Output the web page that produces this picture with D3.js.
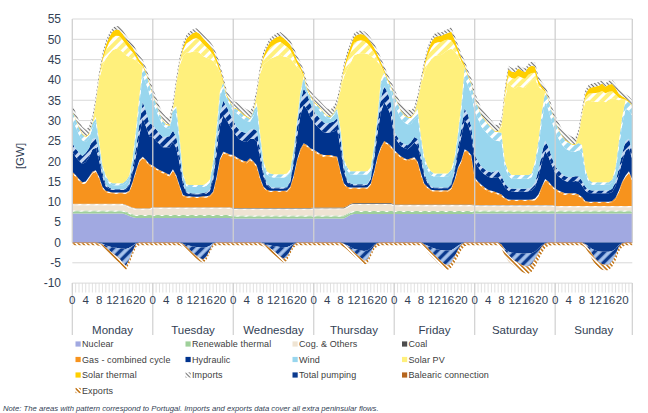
<!DOCTYPE html>
<html>
<head>
<meta charset="utf-8">
<script src="https://cdn.jsdelivr.net/npm/d3@7/dist/d3.min.js"></script>
<style>
body { margin: 0; background: #fff; }
text { font-family: "Liberation Sans", Arial, sans-serif; }
</style>
</head>
<body>
<div id="chart"></div>
<script>
// hourly values, GW, Monday 0h .. Sunday 23h (7 x 24)
var days = ["Monday", "Tuesday", "Wednesday", "Thursday", "Friday", "Saturday", "Sunday"];
var hourLabels = [0, 4, 8, 12, 16, 20];
var yTicks = [-10, -5, 0, 5, 10, 15, 20, 25, 30, 35, 40, 45, 50, 55];

var nuclear = [
 7.1,7.1,7.1,7.1,7.1,7.1,7.1,7.1,7.1,7.1,7.1,7.1,7.1,7.1,7.1,7.1,6.9,6.5,6.2,6.0,6.0,6.0,6.0,6.0,
 6.0,6.0,6.0,6.0,6.0,6.0,6.0,6.0,6.0,6.0,6.0,6.0,6.0,6.0,6.0,6.0,6.0,6.0,6.0,6.0,6.0,6.0,6.0,6.0,
 5.9,5.9,5.9,5.9,5.9,5.9,5.9,5.9,5.9,5.9,5.9,5.9,5.9,5.9,5.9,5.9,5.9,5.9,5.9,5.9,5.9,5.9,5.9,5.9,
 5.9,5.9,5.9,5.9,5.9,5.9,5.9,5.9,5.9,5.9,6.3,6.8,7.0,7.0,7.0,7.0,7.0,7.0,7.0,7.0,7.0,7.0,7.0,7.0,
 7.0,7.0,7.0,7.0,7.0,7.0,7.0,7.0,7.0,7.0,7.0,7.0,7.0,7.0,7.0,7.0,7.0,7.0,7.0,7.0,7.0,7.0,7.0,7.0,
 7.1,7.1,7.1,7.1,7.1,7.1,7.1,7.1,7.1,7.1,7.1,7.1,7.1,7.1,7.1,7.1,7.1,7.1,7.1,7.1,7.1,7.1,7.1,7.1,
 7.1,7.1,7.1,7.1,7.1,7.1,7.1,7.1,7.1,7.1,7.1,7.1,7.1,7.1,7.1,7.1,7.1,7.1,7.1,7.1,7.1,7.1,7.1,7.1];

var renThermal = [
 0.5,0.5,0.5,0.5,0.5,0.5,0.5,0.5,0.5,0.5,0.5,0.5,0.5,0.5,0.5,0.5,0.5,0.5,0.5,0.5,0.5,0.5,0.5,0.5,
 0.5,0.5,0.5,0.5,0.5,0.5,0.5,0.5,0.5,0.5,0.5,0.5,0.5,0.5,0.5,0.5,0.5,0.5,0.5,0.5,0.5,0.5,0.5,0.5,
 0.5,0.5,0.5,0.5,0.5,0.5,0.5,0.5,0.5,0.5,0.5,0.5,0.5,0.5,0.5,0.5,0.5,0.5,0.5,0.5,0.5,0.5,0.5,0.5,
 0.5,0.5,0.5,0.5,0.5,0.5,0.5,0.5,0.5,0.5,0.5,0.5,0.5,0.5,0.5,0.5,0.5,0.5,0.5,0.5,0.5,0.5,0.5,0.5,
 0.5,0.5,0.5,0.5,0.5,0.5,0.5,0.5,0.5,0.5,0.5,0.5,0.5,0.5,0.5,0.5,0.5,0.5,0.5,0.5,0.5,0.5,0.5,0.5,
 0.5,0.5,0.5,0.5,0.5,0.5,0.5,0.5,0.5,0.5,0.5,0.5,0.5,0.5,0.5,0.5,0.5,0.5,0.5,0.5,0.5,0.5,0.5,0.5,
 0.5,0.5,0.5,0.5,0.5,0.5,0.5,0.5,0.5,0.5,0.5,0.5,0.5,0.5,0.5,0.5,0.5,0.5,0.5,0.5,0.5,0.5,0.5,0.5];

var renThermalPT = [
 .25,.25,.25,.25,.25,.25,.25,.25,.25,.25,.25,.25,.25,.25,.25,.25,.25,.25,.25,.25,.25,.25,.25,.25,
 .25,.25,.25,.25,.25,.25,.25,.25,.25,.25,.25,.25,.25,.25,.25,.25,.25,.25,.25,.25,.25,.25,.25,.25,
 .25,.25,.25,.25,.25,.25,.25,.25,.25,.25,.25,.25,.25,.25,.25,.25,.25,.25,.25,.25,.25,.25,.25,.25,
 .25,.25,.25,.25,.25,.25,.25,.25,.25,.25,.25,.25,.25,.25,.25,.25,.25,.25,.25,.25,.25,.25,.25,.25,
 .25,.25,.25,.25,.25,.25,.25,.25,.25,.25,.25,.25,.25,.25,.25,.25,.25,.25,.25,.25,.25,.25,.25,.25,
 .25,.25,.25,.25,.25,.25,.25,.25,.25,.25,.25,.25,.25,.25,.25,.25,.25,.25,.25,.25,.25,.25,.25,.25,
 .25,.25,.25,.25,.25,.25,.25,.25,.25,.25,.25,.25,.25,.25,.25,.25,.25,.25,.25,.25,.25,.25,.25,.25];

var cog = [
 1.3,1.3,1.3,1.3,1.3,1.3,1.3,1.3,1.3,1.3,1.3,1.3,1.3,1.3,1.3,1.3,1.3,1.3,1.3,1.3,1.3,1.3,1.3,1.3,
 1.55,1.55,1.55,1.55,1.55,1.55,1.55,1.55,1.55,1.55,1.55,1.55,1.55,1.55,1.55,1.55,1.55,1.55,1.55,1.55,1.55,1.55,1.55,1.55,
 1.4,1.4,1.4,1.4,1.4,1.4,1.4,1.4,1.4,1.4,1.4,1.4,1.4,1.4,1.4,1.4,1.4,1.4,1.4,1.4,1.4,1.4,1.4,1.4,
 1.5,1.5,1.5,1.5,1.5,1.5,1.5,1.5,1.5,1.5,1.5,1.5,1.5,1.5,1.5,1.5,1.5,1.5,1.5,1.5,1.5,1.5,1.5,1.5,
 1.15,1.15,1.15,1.15,1.15,1.15,1.15,1.15,1.15,1.15,1.15,1.15,1.15,1.15,1.15,1.15,1.15,1.15,1.15,1.15,1.15,1.15,1.15,1.15,
 1.0,1.0,1.0,1.0,1.0,1.0,1.0,1.0,1.0,1.0,1.0,1.0,1.0,1.0,1.0,1.0,1.0,1.0,1.0,1.0,1.0,1.0,1.0,1.0,
 0.8,0.8,0.8,0.8,0.8,0.8,0.8,0.8,0.8,0.8,0.8,0.8,0.8,0.8,0.8,0.8,0.8,0.8,0.8,0.8,0.8,0.8,0.8,0.8];

var cogPT = [
 0.3,0.3,0.3,0.3,0.3,0.3,0.3,0.3,0.3,0.3,0.3,0.3,0.3,0.3,0.3,0.3,0.3,0.3,0.3,0.3,0.3,0.3,0.3,0.3,
 0.3,0.3,0.3,0.3,0.3,0.3,0.3,0.3,0.3,0.3,0.3,0.3,0.3,0.3,0.3,0.3,0.3,0.3,0.3,0.3,0.3,0.3,0.3,0.3,
 0.3,0.3,0.3,0.3,0.3,0.3,0.3,0.3,0.3,0.3,0.3,0.3,0.3,0.3,0.3,0.3,0.3,0.3,0.3,0.3,0.3,0.3,0.3,0.3,
 0.3,0.3,0.3,0.3,0.3,0.3,0.3,0.3,0.3,0.3,0.3,0.3,0.3,0.3,0.3,0.3,0.3,0.3,0.3,0.3,0.3,0.3,0.3,0.3,
 0.3,0.3,0.3,0.3,0.3,0.3,0.3,0.3,0.3,0.3,0.3,0.3,0.3,0.3,0.3,0.3,0.3,0.3,0.3,0.3,0.3,0.3,0.3,0.3,
 0.3,0.3,0.3,0.3,0.3,0.3,0.3,0.3,0.3,0.3,0.3,0.3,0.3,0.3,0.3,0.3,0.3,0.3,0.3,0.3,0.3,0.3,0.3,0.3,
 0.3,0.3,0.3,0.3,0.3,0.3,0.3,0.3,0.3,0.3,0.3,0.3,0.3,0.3,0.3,0.3,0.3,0.3,0.3,0.3,0.3,0.3,0.3,0.3];

var coal = [
 .05,.05,.05,.05,.05,.05,.05,.05,.05,.05,.05,.05,.05,.05,.05,.05,.05,.05,.05,.05,.05,.05,.05,.05,
 .05,.05,.05,.05,.05,.05,.05,.05,.05,.05,.05,.05,.05,.05,.05,.05,.05,.05,.05,.05,.05,.05,.05,.05,
 .15,.15,.15,.15,.15,.15,.15,.15,.15,.15,.15,.15,.15,.15,.15,.15,.15,.15,.15,.15,.15,.15,.15,.15,
 .15,.15,.15,.15,.15,.15,.15,.15,.15,.15,.15,.15,.15,.15,.15,.15,.15,.15,.15,.15,.15,.15,.15,.15,
 .15,.15,.15,.15,.15,.15,.15,.15,.15,.15,.15,.15,.15,.15,.15,.15,.15,.15,.15,.15,.15,.15,.15,.15,
 .05,.05,.05,.05,.05,.05,.05,.05,.05,.05,.05,.05,.05,.05,.05,.05,.05,.05,.05,.05,.05,.05,.05,.05,
 .05,.05,.05,.05,.05,.05,.05,.05,.05,.05,.05,.05,.05,.05,.05,.05,.05,.05,.05,.05,.05,.05,.05,.05];

var gas = [
 7.5,6.7,5.7,4.9,5.1,6.3,7.5,7.9,6.3,3.9,2.9,2.7,2.5,2.5,2.5,2.5,2.7,3.5,6.0,9.0,11.5,12.3,11.5,10.5,
 9.9,9.3,8.8,8.4,8.0,7.6,9.0,7.5,5.0,2.8,2.4,2.4,2.3,2.3,2.3,2.4,2.4,2.6,3.5,7.0,11.5,13.3,13.0,12.6,
 12.6,12.1,11.6,11.2,11.0,11.8,11.1,10.1,7.1,5.0,4.2,3.9,3.9,3.9,3.9,3.9,4.0,4.9,7.6,11.4,14.1,15.5,15.1,14.3,
 13.8,13.3,12.8,12.5,12.5,12.5,12.3,12.1,8.5,5.7,4.4,3.7,3.5,3.5,3.5,3.5,3.6,4.5,7.4,11.0,13.4,14.9,14.4,13.7,
 13.0,12.2,11.5,11.0,10.7,11.0,11.2,10.2,7.2,4.8,4.0,3.3,3.2,3.2,3.2,3.2,3.2,3.8,5.7,8.7,10.5,13.2,12.7,11.7,
 6.4,5.4,4.6,3.9,3.4,3.1,2.9,2.6,2.2,1.5,1.1,1.0,1.0,1.0,1.0,1.0,1.0,1.1,1.2,2.2,4.2,6.0,5.4,4.4,
 3.9,3.4,3.0,2.7,2.7,2.7,2.7,2.4,1.8,0.9,0.7,0.7,0.7,0.7,0.7,0.7,0.7,0.9,1.6,3.4,5.6,7.1,8.1,6.1];

var gasPT = [
 0.4,0.4,0.4,0.4,0.4,0.4,0.4,0.4,0.4,0.3,0.3,0.3,0.3,0.3,0.3,0.3,0.3,0.3,0.4,0.4,0.4,0.4,0.4,0.4,
 0.4,0.4,0.4,0.4,0.4,0.4,0.4,0.4,0.4,0.3,0.3,0.3,0.3,0.3,0.3,0.3,0.3,0.3,0.4,0.4,0.4,0.4,0.4,0.4,
 0.4,0.4,0.4,0.4,0.4,0.4,0.4,0.4,0.4,0.3,0.3,0.3,0.3,0.3,0.3,0.3,0.3,0.3,0.4,0.4,0.4,0.4,0.4,0.4,
 0.4,0.4,0.4,0.4,0.4,0.4,0.4,0.4,0.4,0.3,0.3,0.3,0.3,0.3,0.3,0.3,0.3,0.3,0.4,0.4,0.4,0.4,0.4,0.4,
 0.4,0.4,0.4,0.4,0.4,0.4,0.4,0.4,0.4,0.3,0.3,0.3,0.3,0.3,0.3,0.3,0.3,0.3,0.4,0.4,0.4,0.4,0.4,0.4,
 0.4,0.4,0.4,0.4,0.4,0.4,0.4,0.4,0.4,0.3,0.3,0.3,0.3,0.3,0.3,0.3,0.3,0.3,0.4,0.4,0.4,0.4,0.4,0.4,
 0.4,0.4,0.4,0.4,0.4,0.4,0.4,0.4,0.4,0.3,0.3,0.3,0.3,0.3,0.3,0.3,0.3,0.3,0.4,0.4,0.4,0.4,0.4,0.4];

var hydro = [
 5.0,4.5,4.5,4.5,4.8,4.8,5.5,5.5,4.0,2.5,1.1,0.7,0.6,0.6,0.6,0.6,0.7,1.4,2.3,3.5,6.0,9.5,8.2,6.8,
 7.0,6.7,6.4,6.0,6.4,6.7,6.7,6.7,5.3,2.5,0.9,0.6,0.6,0.6,0.6,0.6,0.7,1.1,2.8,5.6,7.8,8.9,8.1,7.0,
 5.9,5.2,4.8,4.8,4.8,4.8,5.5,5.9,4.9,2.5,1.1,0.7,0.6,0.6,0.6,0.6,0.6,1.1,2.8,5.6,8.1,9.5,8.8,7.7,
 6.7,6.3,6.0,5.6,5.5,5.6,6.0,6.7,5.7,2.9,1.1,0.7,0.6,0.6,0.6,0.6,0.6,1.1,2.8,5.6,8.5,9.5,8.8,7.4,
 3.3,2.9,2.5,2.5,2.5,2.9,3.6,4.0,3.3,1.8,0.9,0.6,0.5,0.5,0.5,0.5,0.5,0.7,1.8,3.6,5.8,7.2,6.5,5.0,
 3.9,3.5,3.2,3.2,3.2,3.2,3.5,3.9,3.2,2.5,2.2,2.1,2.0,2.0,2.0,2.0,2.1,2.2,2.9,4.3,5.8,6.9,6.1,5.0,
 3.9,3.5,3.2,3.0,2.8,2.8,3.0,3.2,2.8,2.5,2.2,2.1,2.1,2.1,2.1,2.1,2.1,2.2,2.9,3.9,5.0,6.1,5.7,5.0];

var hydroPT = [
 2.0,2.0,2.0,2.0,2.2,2.2,2.5,2.5,2.0,1.0,0.4,0.3,0.2,0.2,0.2,0.2,0.3,0.6,1.2,2.0,3.0,4.0,3.8,3.2,
 3.0,2.8,2.6,2.5,2.6,2.8,2.8,2.8,2.2,1.0,0.3,0.2,0.2,0.2,0.2,0.2,0.3,0.4,1.2,2.4,3.2,3.6,3.4,3.0,
 2.6,2.3,2.2,2.2,2.2,2.2,2.5,2.6,2.1,1.0,0.4,0.3,0.2,0.2,0.2,0.2,0.2,0.4,1.2,2.4,3.4,4.0,3.7,3.3,
 2.8,2.7,2.5,2.4,2.3,2.4,2.5,2.8,2.3,1.1,0.4,0.3,0.2,0.2,0.2,0.2,0.2,0.4,1.2,2.4,3.5,4.0,3.7,3.1,
 1.2,1.1,1.0,1.0,1.0,1.1,1.4,1.5,1.2,0.7,0.3,0.2,0.2,0.2,0.2,0.2,0.2,0.3,0.7,1.4,2.2,2.8,2.5,2.0,
 1.6,1.5,1.3,1.3,1.3,1.3,1.5,1.6,1.3,1.0,0.8,0.7,0.7,0.7,0.7,0.7,0.7,0.8,1.1,1.7,2.2,2.6,2.4,2.0,
 1.6,1.5,1.3,1.2,1.2,1.2,1.2,1.3,1.2,1.0,0.8,0.7,0.7,0.7,0.7,0.7,0.7,0.8,1.1,1.6,2.0,2.4,2.3,2.0];

var wind = [
 5.9,5.3,4.4,3.8,2.7,2.4,2.8,3.9,2.0,1.3,1.7,1.0,1.0,1.0,1.0,1.0,1.3,1.2,1.7,3.4,4.9,6.5,6.8,7.2,
 5.5,4.7,3.6,2.9,2.1,1.9,4.0,5.7,3.4,1.3,1.3,1.5,1.6,1.6,1.6,1.5,1.6,1.8,2.6,3.0,4.1,3.4,1.8,2.1,
 2.3,3.3,3.6,3.3,3.0,2.0,3.1,5.4,3.0,2.0,2.2,2.5,2.5,2.5,2.5,2.5,2.6,2.1,1.9,1.2,1.9,2.3,0.9,1.3,
 1.7,1.9,1.9,1.8,1.3,0.9,1.5,1.8,1.8,1.4,2.5,2.2,2.4,2.4,2.4,2.4,2.3,1.8,1.8,1.4,3.3,2.5,2.2,3.0,
 6.8,6.3,5.7,5.3,5.1,4.4,4.3,5.7,3.4,3.0,2.9,2.8,2.6,2.6,2.6,2.6,2.6,2.6,2.2,2.6,4.3,7.7,7.1,7.9,
 10.8,10.4,9.8,9.5,9.1,8.5,7.6,7.3,8.4,4.2,2.9,2.4,2.5,2.5,2.5,2.5,2.4,2.5,3.9,5.5,7.9,9.4,9.1,8.7,
 8.5,7.8,7.2,6.8,6.6,6.2,6.0,6.4,6.9,3.3,1.8,1.4,1.4,1.4,1.4,1.4,1.4,1.6,2.6,5.2,7.0,7.9,7.0,8.7];

var windPT = [
 2.0,1.9,1.7,1.5,1.2,1.0,1.1,1.3,0.8,0.5,0.6,0.5,0.5,0.5,0.5,0.5,0.6,0.6,0.8,1.3,1.8,2.3,2.4,2.5,
 1.8,1.6,1.3,1.1,0.8,0.7,1.3,1.8,1.1,0.5,0.5,0.5,0.5,0.5,0.5,0.5,0.6,0.6,0.9,1.0,1.4,1.2,0.7,0.8,
 0.8,1.0,1.1,1.0,1.0,0.7,1.0,1.6,1.0,0.7,0.8,0.8,0.8,0.8,0.8,0.8,0.8,0.7,0.6,0.5,0.6,0.7,0.3,0.5,
 0.6,0.6,0.7,0.6,0.5,0.4,0.5,0.6,0.7,0.5,0.8,0.8,0.8,0.8,0.8,0.8,0.8,0.7,0.7,0.5,1.2,0.9,0.8,1.0,
 2.2,2.0,1.9,1.7,1.7,1.5,1.4,1.8,1.1,1.0,0.9,0.9,0.8,0.8,0.8,0.8,0.8,0.9,0.8,0.9,1.4,2.5,2.4,2.6,
 3.0,2.9,2.7,2.6,2.5,2.4,2.2,2.1,2.3,1.3,1.0,0.9,0.9,0.9,0.9,0.9,0.9,0.9,1.3,1.7,2.3,2.6,2.5,2.4,
 2.4,2.2,2.1,2.0,1.9,1.8,1.7,1.8,1.9,1.0,0.7,0.6,0.6,0.6,0.6,0.6,0.6,0.7,0.9,1.5,2.0,2.2,2.0,2.4];

var solarPV = [
 0,0,0,0,0,0,0,3.4,15.0,24.3,28.7,31.4,32.7,33.1,33.0,32.3,30.9,29.1,24.3,16.7,8.0,0,0,0,
 0,0,0,0,0,0,0,5.4,17.5,28.8,32.4,32.6,32.8,33.0,32.5,31.7,30.9,29.7,24.6,15.5,5.0,0,0,0,
 0,0,0,0,0,0,0,1.9,14.5,23.8,27.0,28.2,28.7,29.1,29.4,29.0,28.6,27.3,21.3,13.2,5.5,0,0,0,
 0,0,0,0,0,0,0,0.9,9.5,20.3,24.2,26.7,28.5,28.9,29.1,29.1,28.9,27.4,21.3,13.5,3.5,0,0,0,
 0,0,0,0,0,0,0,1.9,12.8,20.8,25.2,27.6,28.9,29.1,29.2,29.8,30.4,29.7,26.1,19.0,10.5,0,0,0,
 0,0,0,0,0,0,0,0,1.6,15.1,21.8,21.7,21.3,21.9,21.6,21.4,22.5,22.8,20.4,13.3,5.7,0,0,0,
 0,0,0,0,0,0,0,1.9,7.2,16.7,19.5,19.9,19.8,19.8,20.2,19.7,20.3,20.0,16.8,10.0,4.2,0,0,0];

var solarPVPT = [
 0,0,0,0,0,0,0,0.1,0.6,1.4,2.2,2.8,3.1,3.2,3.2,3.0,2.6,2.1,1.5,0.8,0.2,0,0,0,
 0,0,0,0,0,0,0,0.1,0.6,1.4,2.2,2.8,3.1,3.2,3.2,3.0,2.6,2.1,1.5,0.8,0.2,0,0,0,
 0,0,0,0,0,0,0,0.1,0.6,1.4,2.2,2.8,3.1,3.2,3.2,3.0,2.6,2.1,1.5,0.8,0.2,0,0,0,
 0,0,0,0,0,0,0,0.1,0.6,1.4,2.2,2.8,3.1,3.2,3.2,3.0,2.6,2.1,1.5,0.8,0.2,0,0,0,
 0,0,0,0,0,0,0,0.1,0.6,1.4,2.2,2.8,3.1,3.2,3.2,3.0,2.6,2.1,1.5,0.8,0.2,0,0,0,
 0,0,0,0,0,0,0,0.1,0.4,1.0,1.8,2.2,2.4,2.5,2.4,2.3,2.2,1.9,1.4,0.7,0.2,0,0,0,
 0,0,0,0,0,0,0,0.1,0.4,1.0,1.6,2.0,2.2,2.3,2.3,2.2,2.0,1.7,1.2,0.6,0.2,0,0,0];

var solarThermal = [
 0.2,0.2,0.2,0.2,0.2,0.2,0.2,0.2,0.3,0.8,1.2,1.4,1.5,1.5,1.5,1.5,1.4,1.3,1.2,1.0,0.8,0.6,0.4,0.3,
 0.2,0.2,0.2,0.2,0.2,0.2,0.2,0.2,0.3,0.8,1.2,1.4,1.5,1.5,1.5,1.5,1.4,1.3,1.2,1.0,0.8,0.6,0.4,0.3,
 0.2,0.2,0.2,0.2,0.2,0.2,0.2,0.2,0.3,0.8,1.2,1.4,1.5,1.5,1.5,1.5,1.4,1.3,1.2,1.0,0.8,0.6,0.4,0.3,
 0.2,0.2,0.2,0.2,0.2,0.2,0.2,0.2,0.3,0.8,1.2,1.4,1.5,1.5,1.5,1.5,1.4,1.3,1.2,1.0,0.8,0.6,0.4,0.3,
 0.2,0.2,0.2,0.2,0.2,0.2,0.2,0.2,0.3,0.8,1.2,1.4,1.5,1.5,1.5,1.5,1.6,2.2,1.4,1.0,0.8,0.6,0.4,0.3,
 0.2,0.2,0.2,0.2,0.2,0.2,0.2,0.2,0.3,0.9,1.5,1.6,1.6,1.8,1.7,1.6,1.8,1.8,1.5,1.0,0.6,0.4,0.3,0.2,
 0.2,0.2,0.2,0.2,0.2,0.2,0.2,0.2,0.3,0.8,1.3,1.5,1.6,1.7,1.8,1.6,1.8,1.8,1.5,1.0,0.6,0.4,0.3,0.2];

var imports = [
 1.5,1.5,1.6,1.7,1.7,1.7,1.5,1.3,1.1,1.0,0.9,0.9,0.9,0.9,0.9,0.9,0.9,1.0,1.0,1.0,1.0,1.0,1.1,1.2,
 1.5,1.5,1.6,1.7,1.7,1.7,1.5,1.3,1.1,1.0,0.9,0.9,0.9,0.9,0.9,0.9,0.9,1.0,1.0,1.0,1.0,1.0,1.1,1.2,
 1.5,1.5,1.6,1.7,1.7,1.7,1.5,1.3,1.1,1.0,0.9,0.9,0.9,0.9,0.9,0.9,0.9,1.0,1.0,1.0,1.0,1.0,1.1,1.2,
 1.5,1.5,1.6,1.7,1.7,1.7,1.5,1.3,1.1,1.0,0.9,0.9,0.9,0.9,0.9,0.9,0.9,1.0,1.0,1.0,1.0,1.0,1.1,1.2,
 1.5,1.5,1.6,1.7,1.7,1.7,1.5,1.3,1.1,1.0,0.9,0.9,0.9,0.9,0.9,0.9,0.9,1.0,1.0,1.0,1.0,1.0,1.1,1.2,
 1.5,1.5,1.6,1.7,1.7,1.7,1.5,1.5,1.2,1.0,0.9,0.9,0.9,0.9,0.9,0.9,0.9,1.0,1.0,1.0,1.0,1.0,1.1,1.2,
 1.5,1.5,1.6,1.7,1.7,1.7,1.5,1.3,1.1,1.0,0.9,0.9,0.9,0.9,0.9,0.9,0.9,1.0,1.0,1.0,1.0,1.0,1.1,1.2];

var pumping = [
 0,0,0,0,0,0,0,0,-0.1,-0.3,-0.7,-1.0,-1.2,-1.3,-1.4,-1.5,-1.6,-1.3,-0.8,-0.2,0,0,0,0,
 0,0,0,0,0,0,0,0,0,-0.3,-0.6,-0.8,-1.0,-1.1,-1.2,-1.3,-1.2,-0.8,-0.2,0,0,0,0,0,
 0,0,0,0,0,0,0,0,0,-0.2,-0.5,-0.7,-0.9,-1.0,-1.1,-1.2,-1.2,-0.8,-0.3,0,0,0,0,0,
 0,0,0,0,0,0,0,0,0,-0.3,-0.7,-1.2,-1.6,-1.8,-2.0,-2.1,-2.0,-1.4,-0.5,-0.1,0,0,0,0,
 0,0,0,0,0,0,0,0,0,-0.4,-0.8,-1.2,-1.5,-1.7,-1.9,-2.0,-2.0,-1.9,-1.4,-0.8,-0.3,0,0,0,
 0,0,0,0,0,0,0,0,-0.5,-1.6,-2.2,-2.5,-2.6,-2.7,-2.7,-2.7,-2.7,-2.6,-2.2,-1.5,-0.7,-0.2,0,0,
 0,0,0,0,0,0,0,0,0,-0.4,-1.0,-1.6,-2.0,-2.2,-2.3,-2.3,-2.3,-2.1,-1.6,-0.6,-0.1,0,0,0];

var pumpingPT = [
 0,0,0,0,0,0,0,0,0,-0.2,-0.5,-0.9,-1.4,-1.9,-2.5,-3.4,-4.1,-2.9,-1.3,-0.1,0,0,0,0,
 0,0,0,0,0,0,0,0,0,-0.1,-0.4,-1.0,-1.6,-2.1,-2.6,-2.9,-2.3,-1.0,-0.1,0,0,0,0,0,
 0,0,0,0,0,0,0,0,0,-0.1,-0.3,-0.7,-1.1,-1.7,-2.3,-2.8,-2.4,-1.2,-0.2,0,0,0,0,0,
 0,0,0,0,0,0,0,0,0,0,-0.2,-0.4,-0.7,-1.2,-1.7,-2.3,-2.2,-1.2,-0.3,0,0,0,0,0,
 0,0,0,0,0,0,0,0,0,-0.1,-0.5,-1.0,-1.5,-2.1,-2.7,-3.3,-3.6,-3.1,-2.1,-1.0,-0.2,0,0,0,
 0,0,0,0,0,0,0,0,0,-0.4,-0.8,-1.3,-1.9,-2.3,-2.8,-3.1,-3.1,-2.7,-1.8,-1.0,-0.3,0,0,0,
 0,0,0,0,0,0,0,0,0,-0.1,-0.5,-1.2,-2.0,-2.6,-3.0,-3.2,-3.1,-2.5,-1.4,-0.4,-0.1,0,0,0];

var balearic = [
 -.2,-.2,-.2,-.2,-.2,-.2,-.2,-.2,-.2,-.1,-.1,-.1,-.1,-.1,-.1,-.1,-.1,-.1,-.2,-.2,-.2,-.2,-.2,-.2,
 -.2,-.2,-.2,-.2,-.2,-.2,-.2,-.2,-.2,-.1,-.1,-.1,-.1,-.1,-.1,-.1,-.1,-.1,-.2,-.2,-.2,-.2,-.2,-.2,
 -.2,-.2,-.2,-.2,-.2,-.2,-.2,-.2,-.2,-.1,-.1,-.1,-.1,-.1,-.1,-.1,-.1,-.1,-.2,-.2,-.2,-.2,-.2,-.2,
 -.2,-.2,-.2,-.2,-.2,-.2,-.2,-.2,-.2,-.1,-.1,-.1,-.1,-.1,-.1,-.1,-.1,-.1,-.2,-.2,-.2,-.2,-.2,-.2,
 -.2,-.2,-.2,-.2,-.2,-.2,-.2,-.2,-.2,-.1,-.1,-.1,-.1,-.1,-.1,-.1,-.1,-.1,-.2,-.2,-.2,-.2,-.2,-.2,
 -.2,-.2,-.2,-.2,-.2,-.2,-.2,-.2,-.2,-.1,-.1,-.1,-.1,-.1,-.1,-.1,-.1,-.1,-.2,-.2,-.2,-.2,-.2,-.2,
 -.2,-.2,-.2,-.2,-.2,-.2,-.2,-.2,-.2,-.1,-.1,-.1,-.1,-.1,-.1,-.1,-.1,-.1,-.2,-.2,-.2,-.2,-.2,-.2];

var exports = [
 -.5,-.5,-.5,-.5,-.5,-.5,-.5,-.5,-.5,-.6,-.7,-.8,-.9,-1.0,-1.0,-1.0,-1.0,-.9,-.8,-.6,-.5,-.5,-.5,-.5,
 -.5,-.5,-.5,-.5,-.5,-.5,-.5,-.5,-.5,-.6,-.7,-.7,-.7,-.7,-.7,-.7,-.7,-.6,-.5,-.5,-.5,-.5,-.5,-.5,
 -.5,-.5,-.5,-.5,-.5,-.5,-.5,-.5,-.5,-.6,-.7,-.8,-.8,-.8,-.8,-.8,-.8,-.7,-.6,-.5,-.5,-.5,-.5,-.5,
 -.5,-.5,-.5,-.5,-.5,-.5,-.5,-.5,-.5,-.7,-.8,-.9,-.9,-.9,-.9,-.9,-.9,-.8,-.7,-.6,-.5,-.5,-.5,-.5,
 -.5,-.5,-.5,-.5,-.5,-.5,-.5,-.5,-.5,-.7,-1.0,-1.0,-1.0,-1.0,-1.0,-1.0,-1.0,-1.1,-1.3,-1.5,-1.2,-.7,-.5,-.5,
 -.5,-.5,-.5,-.5,-.5,-.5,-.5,-.5,-.8,-1.2,-1.4,-1.4,-1.4,-1.5,-1.6,-1.7,-1.8,-1.8,-1.8,-1.7,-1.5,-1.0,-.6,-.5,
 -.5,-.5,-.5,-.5,-.5,-.5,-.5,-.5,-.5,-.7,-1.0,-1.2,-1.3,-1.3,-1.3,-1.3,-1.3,-1.3,-1.3,-1.0,-.7,-.5,-.5,-.5];

// ---------------------------------------------------------------
var W = 648, H = 413;
var svg = d3.select("#chart").append("svg")
    .attr("width", W).attr("height", H)
    .style("background", "#fff");
var defs = svg.append("defs");

// diagonal stripe pattern; angle 45 gives "/", -45 gives "\"
function stripes(id, bg, fg, size, lw, angle) {
    var p = defs.append("pattern")
        .attr("id", id)
        .attr("patternUnits", "userSpaceOnUse")
        .attr("width", size).attr("height", size)
        .attr("patternTransform", "rotate(" + angle + ")");
    p.append("rect").attr("width", size).attr("height", size).attr("fill", bg);
    p.append("line")
        .attr("x1", size / 2).attr("y1", 0)
        .attr("x2", size / 2).attr("y2", size)
        .attr("stroke", fg).attr("stroke-width", lw);
}
stripes("pRen", "#9fd09a", "#ffffff", 6, 2.5, 45);
stripes("pCog", "#efe4d3", "#ffffff", 6, 2.5, 45);
stripes("pGas", "#f7931d", "#ffffff", 6, 2.5, 45);
stripes("pHyd", "#00338d", "#c4d6f1", 7, 3, 45);
stripes("pWind", "#98d6ee", "#ffffff", 7, 3, 45);
stripes("pPV", "#fff07c", "#ffffff", 7, 3, 45);
stripes("pPump", "#a9c5ee", "#0b3a8e", 7, 3.5, 45);
stripes("pImp", "#ffffff", "#707070", 3, 1.1, -45);
stripes("pExp", "#ffffff", "#c0700f", 3.2, 1.5, -45);

var posSeries = [
    {key: "nuclear", vals: nuclear, fill: "#a1a9e1"},
    {key: "renThermal", vals: renThermal, fill: "#9fd09a"},
    {key: "renThermalPT", vals: renThermalPT, fill: "url(#pRen)"},
    {key: "cog", vals: cog, fill: "#efe4d3"},
    {key: "cogPT", vals: cogPT, fill: "url(#pCog)"},
    {key: "coal", vals: coal, fill: "#4d4d4d"},
    {key: "gas", vals: gas, fill: "#f7931d"},
    {key: "gasPT", vals: gasPT, fill: "url(#pGas)"},
    {key: "hydro", vals: hydro, fill: "#00338d"},
    {key: "hydroPT", vals: hydroPT, fill: "url(#pHyd)"},
    {key: "wind", vals: wind, fill: "#98d6ee"},
    {key: "windPT", vals: windPT, fill: "url(#pWind)"},
    {key: "solarPV", vals: solarPV, fill: "#fff07c"},
    {key: "solarPVPT", vals: solarPVPT, fill: "url(#pPV)"},
    {key: "solarThermal", vals: solarThermal, fill: "#ffcf00"},
    {key: "imports", vals: imports, fill: "url(#pImp)"}
];
var negSeries = [
    {key: "pumping", vals: pumping, fill: "#0b3a8e"},
    {key: "pumpingPT", vals: pumpingPT, fill: "url(#pPump)"},
    {key: "balearic", vals: balearic, fill: "#b5651d"},
    {key: "exports", vals: exports, fill: "url(#pExp)"}
];

var n = nuclear.length;
posSeries.concat(negSeries).forEach(function (s) {
    if (s.vals.length !== n) throw new Error(s.key + " has " + s.vals.length + " values");
});

var rows = d3.range(n).map(function (i) {
    var r = {};
    posSeries.concat(negSeries).forEach(function (s) { r[s.key] = s.vals[i]; });
    return r;
});

var x = d3.scaleLinear().domain([0, n - 1]).range([72.3, 632.3]);
var y = d3.scaleLinear().domain([-10, 55]).range([283.1, 19]);

// horizontal gridlines (behind the areas)
svg.append("g").selectAll("line").data(yTicks).enter().append("line")
    .attr("x1", x(0)).attr("x2", x(n - 1))
    .attr("y1", function (d) { return y(d); })
    .attr("y2", function (d) { return y(d); })
    .attr("stroke", "#d9d9d9").attr("stroke-width", 1);

var area = d3.area()
    .x(function (d, i) { return x(i); })
    .y0(function (d) { return y(d[0]); })
    .y1(function (d) { return y(d[1]); });

var posStack = d3.stack().keys(posSeries.map(function (s) { return s.key; }))(rows);
var negStack = d3.stack().keys(negSeries.map(function (s) { return s.key; }))(rows);

svg.append("g").selectAll("path").data(posStack).enter().append("path")
    .attr("d", area)
    .attr("fill", function (d, i) { return posSeries[i].fill; });
svg.append("g").selectAll("path").data(negStack).enter().append("path")
    .attr("d", area)
    .attr("fill", function (d, i) { return negSeries[i].fill; });

// day boundaries
var dayEdges = days.map(function (d, k) { return x(k * 24); }).concat([x(n - 1)]);
svg.append("g").selectAll("line").data(dayEdges).enter().append("line")
    .attr("x1", function (d) { return d; }).attr("x2", function (d) { return d; })
    .attr("y1", y(55)).attr("y2", y(0))
    .attr("stroke", "#d0d0d0").attr("stroke-width", 1.3);

// y axis labels
var textCol = "#333f55";
svg.append("g").selectAll("text").data(yTicks).enter().append("text")
    .attr("x", 61).attr("y", function (d) { return y(d); })
    .attr("dy", "0.36em")
    .attr("text-anchor", "end")
    .attr("font-size", "12px").attr("fill", textCol)
    .text(function (d) { return d; });

svg.append("text")
    .attr("transform", "translate(20,156) rotate(-90)")
    .attr("text-anchor", "middle").attr("dy", "0.35em")
    .attr("font-size", "11.5px").attr("fill", textCol)
    .text("[GW]");

// category axis: hour ticks, hour labels, day groups
var axisG = svg.append("g");
axisG.selectAll("line.tick").data(d3.range(n)).enter().append("line")
    .attr("class", "tick")
    .attr("x1", function (d) { return x(d); }).attr("x2", function (d) { return x(d); })
    .attr("y1", y(-10)).attr("y2", 292.5)
    .attr("stroke", "#d9d9d9").attr("stroke-width", 0.8);
axisG.selectAll("line.sep").data(dayEdges).enter().append("line")
    .attr("class", "sep")
    .attr("x1", function (d) { return d; }).attr("x2", function (d) { return d; })
    .attr("y1", y(-10)).attr("y2", 335)
    .attr("stroke", "#d0d0d0").attr("stroke-width", 1.2);

var hourPos = [];
days.forEach(function (d, k) {
    hourLabels.forEach(function (h) { hourPos.push({i: k * 24 + h, label: h}); });
});
axisG.selectAll("text.hour").data(hourPos).enter().append("text")
    .attr("class", "hour")
    .attr("x", function (d) { return x(d.i); }).attr("y", 299.5)
    .attr("dy", "0.36em").attr("text-anchor", "middle")
    .attr("font-size", "11.5px").attr("fill", textCol)
    .text(function (d) { return d.label; });
axisG.selectAll("text.day").data(days).enter().append("text")
    .attr("class", "day")
    .attr("x", function (d, k) { return (dayEdges[k] + dayEdges[k + 1]) / 2; })
    .attr("y", 329.5)
    .attr("dy", "0.36em").attr("text-anchor", "middle")
    .attr("font-size", "11.5px").attr("fill", textCol)
    .text(function (d) { return d; });

// legend
var legendItems = [
    {name: "Nuclear", fill: "#a1a9e1"},
    {name: "Renewable thermal", fill: "#9fd09a"},
    {name: "Cog. & Others", fill: "#efe4d3"},
    {name: "Coal", fill: "#4d4d4d"},
    {name: "Gas - combined cycle", fill: "#f7931d"},
    {name: "Hydraulic", fill: "#00338d"},
    {name: "Wind", fill: "#98d6ee"},
    {name: "Solar PV", fill: "#fff07c"},
    {name: "Solar thermal", fill: "#ffcf00"},
    {name: "Imports", fill: "url(#pImp)"},
    {name: "Total pumping", fill: "#0b3a8e"},
    {name: "Balearic connection", fill: "#b5651d"},
    {name: "Exports", fill: "url(#pExp)"}
];
var colX = [75.5, 185.5, 292.5, 402];
var rowY = [344, 359.5, 375, 390.5];
var leg = svg.append("g").selectAll("g").data(legendItems).enter().append("g")
    .attr("transform", function (d, i) {
        return "translate(" + colX[i % 4] + "," + rowY[Math.floor(i / 4)] + ")";
    });
leg.append("rect")
    .attr("x", 0).attr("y", -2.6).attr("width", 5.2).attr("height", 5.2)
    .attr("fill", function (d) { return d.fill; });
leg.append("text")
    .attr("x", 6.5).attr("y", 0).attr("dy", "0.35em")
    .attr("font-size", "9px").attr("letter-spacing", "0.1px")
    .attr("fill", "#404040")
    .text(function (d) { return d.name; });

svg.append("text")
    .attr("x", 3).attr("y", 408.7).attr("dy", "0.35em")
    .attr("font-size", "7.7px").attr("font-style", "italic")
    .attr("fill", "#333f55")
    .text("Note: The areas with pattern correspond to Portugal. Imports and exports data cover all extra peninsular flows.");
</script>
</body>
</html>
